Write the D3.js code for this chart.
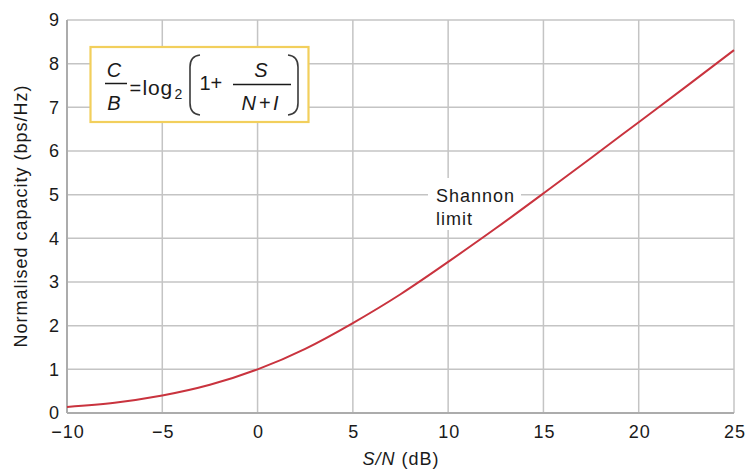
<!DOCTYPE html>
<html>
<head>
<meta charset="utf-8">
<script src="https://cdn.jsdelivr.net/npm/d3@7"></script>
<style>
  html, body { margin: 0; padding: 0; background: #fff; }
  svg { display: block; font-family: "Liberation Sans", Arial, Helvetica, sans-serif; }
</style>
</head>
<body>
<svg id="chart" width="749" height="472"></svg>
<script>
// ---- data ----
const snrDb = [-10, -7.5, -5, -2.5, 0, 2.5, 5, 7.5, 10, 12.5, 15, 17.5, 20, 22.5, 25];
const capacity = [0.14, 0.236, 0.40, 0.645, 1.0, 1.47, 2.06, 2.72, 3.46, 4.23, 5.03, 5.84, 6.66, 7.48, 8.31];
const xTicks = [-10, -5, 0, 5, 10, 15, 20, 25];
const yTicks = [0, 1, 2, 3, 4, 5, 6, 7, 8, 9];
const xLabel = "S/N (dB)";
const yLabel = "Normalised capacity (bps/Hz)";
const curveLabel = ["Shannon", "limit"];

const svg = d3.select("#chart");
const margin = { left: 67, right: 15, top: 20, bottom: 59 };
const W = 749, H = 472;
const x = d3.scaleLinear().domain([-10, 25]).range([margin.left, W - margin.right]);
const y = d3.scaleLinear().domain([0, 9]).range([H - margin.bottom, margin.top]);

const gridColor = "#c4c4c4";
const textColor = "#1a1a1a";

// gridlines
const grid = svg.append("g");
grid.selectAll(".gx").data(xTicks).join("line")
  .attr("x1", d => x(d)).attr("x2", d => x(d))
  .attr("y1", y(0)).attr("y2", y(9))
  .attr("stroke", gridColor).attr("stroke-width", 1.5);
grid.selectAll(".gy").data(yTicks).join("line")
  .attr("x1", x(-10)).attr("x2", x(25))
  .attr("y1", d => y(d)).attr("y2", d => y(d))
  .attr("stroke", gridColor).attr("stroke-width", 1.5);

// axes (labels only), plus axis lines
const xAxis = d3.axisBottom(x).tickValues(xTicks).tickSize(0).tickPadding(0)
  .tickFormat(d => d < 0 ? "\u2212" + Math.abs(d) : String(d));
const gx = svg.append("g").attr("transform", `translate(0,${y(0)})`).call(xAxis);
gx.select(".domain").remove();
gx.selectAll("text").attr("dy", null).attr("y", 24.5)
  .attr("font-size", 18).attr("letter-spacing", 1)
  .attr("font-family", "Liberation Sans, Arial, sans-serif")
  .attr("fill", textColor).attr("dx", 0.5);

const yAxis = d3.axisLeft(y).tickValues(yTicks).tickSize(0).tickPadding(0);
const gy = svg.append("g").attr("transform", `translate(${x(-10)},0)`).call(yAxis);
gy.select(".domain").remove();
gy.selectAll("text").attr("x", -7).attr("dy", "0.33em")
  .attr("font-size", 18).attr("letter-spacing", 1)
  .attr("font-family", "Liberation Sans, Arial, sans-serif")
  .attr("fill", textColor);

svg.append("line").attr("x1", x(-10)).attr("x2", x(25)).attr("y1", y(0)).attr("y2", y(0))
  .attr("stroke", "#acacac").attr("stroke-width", 2);
svg.append("line").attr("x1", x(-10)).attr("x2", x(-10)).attr("y1", y(0)).attr("y2", y(9))
  .attr("stroke", "#acacac").attr("stroke-width", 2);

// axis titles
const xt = svg.append("text").attr("x", 401).attr("y", 465).attr("text-anchor", "middle")
  .attr("font-size", 18).attr("letter-spacing", 1).attr("fill", textColor);
xt.append("tspan").attr("font-style", "italic").text("S/N");
xt.append("tspan").text(" (dB)");

svg.append("text").attr("transform", "translate(27,216) rotate(-90)")
  .attr("text-anchor", "middle").attr("font-size", 18).attr("letter-spacing", 1)
  .attr("fill", textColor).text(yLabel);

// Shannon label with white background
svg.append("rect").attr("x", 428).attr("y", 178).attr("width", 93).attr("height", 52).attr("fill", "#fff");
svg.append("text").attr("x", 436).attr("y", 202).attr("font-size", 18).attr("letter-spacing", 1)
  .attr("fill", textColor).text(curveLabel[0]);
svg.append("text").attr("x", 436).attr("y", 225).attr("font-size", 18).attr("letter-spacing", 1)
  .attr("fill", textColor).text(curveLabel[1]);

// curve
const line = d3.line().x((d, i) => x(snrDb[i])).y(d => y(d)).curve(d3.curveNatural);
svg.append("path").datum(capacity).attr("d", line)
  .attr("fill", "none").attr("stroke", "#c9333e").attr("stroke-width", 2);

// formula box
const fb = svg.append("g");
fb.append("rect").attr("x", 90.5).attr("y", 47).attr("width", 218).attr("height", 75)
  .attr("fill", "#fff").attr("stroke", "#f2cf5c").attr("stroke-width", 2.2);

const fs = 20;
function t(xp, yp, txt, opts = {}) {
  return fb.append("text").attr("x", xp).attr("y", yp).attr("font-size", opts.size || fs)
    .attr("font-style", opts.italic ? "italic" : "normal")
    .attr("text-anchor", opts.anchor || "start")
    .attr("letter-spacing", opts.ls == null ? 1 : opts.ls)
    .attr("fill", textColor).text(txt);
}
// C / B
t(114, 77, "C", { italic: true, anchor: "middle", ls: 0 });
fb.append("line").attr("x1", 105).attr("x2", 127).attr("y1", 83.5).attr("y2", 83.5)
  .attr("stroke", textColor).attr("stroke-width", 1.5);
t(114, 110, "B", { italic: true, anchor: "middle", ls: 0 });
// = log2
t(129.5, 94.5, "=", { ls: 0 });
t(142.5, 95, "log", { ls: 0.8, size: 21 });
t(174.5, 98.5, "2", { size: 14, ls: 0 });
// parentheses
fb.append("path").attr("d", "M200,55 Q190,56 190,67 L190,103 Q190,114 200,115")
  .attr("fill", "none").attr("stroke", "#3a3a3a").attr("stroke-width", 1.6);
fb.append("path").attr("d", "M288,55 Q298,56 298,67 L298,103 Q298,114 288,115")
  .attr("fill", "none").attr("stroke", "#3a3a3a").attr("stroke-width", 1.6);
// 1+
t(199.5, 90, "1+", { ls: 0 });
// S / (N+I)
t(261, 77, "S", { italic: true, anchor: "middle", ls: 0 });
fb.append("line").attr("x1", 233).attr("x2", 291).attr("y1", 84.5).attr("y2", 84.5)
  .attr("stroke", textColor).attr("stroke-width", 1.5);
t(241.5, 110, "N", { italic: true, ls: 0 });
t(259, 110, "+", { ls: 0 });
t(273, 110, "I", { italic: true, ls: 0 });
</script>
</body>
</html>
